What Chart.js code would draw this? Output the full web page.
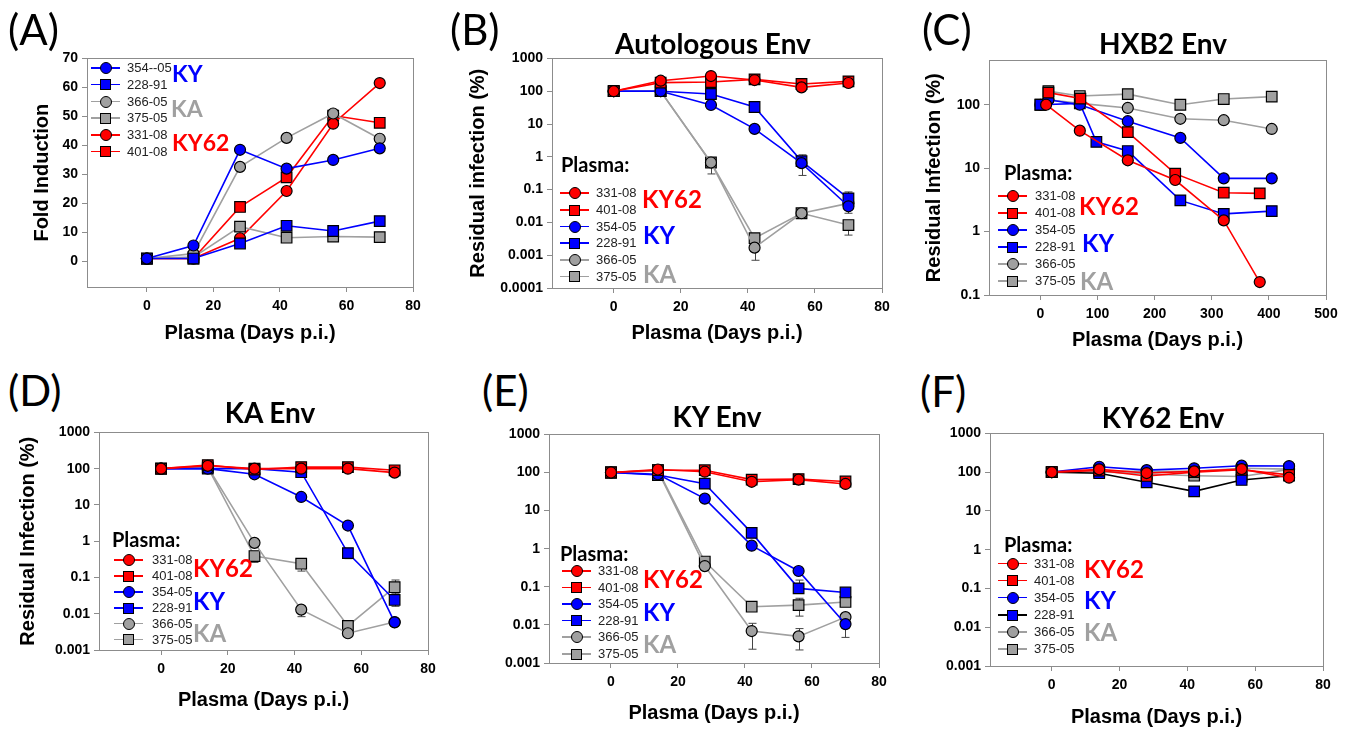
<!DOCTYPE html>
<html>
<head>
<meta charset="utf-8">
<script src="https://cdn.jsdelivr.net/npm/chart.js"></script>
<style>
  body { margin: 0; width: 1355px; height: 729px; position: relative; overflow: hidden; background: #fff; }
  canvas { position: absolute; }
  .letter { position: absolute; font-family: Lato, sans-serif; font-size: 42px; line-height: 1; transform: translateY(-50%); }
  .ptitle { position: absolute; font-family: Lato, sans-serif; font-weight: bold; font-size: 28px; line-height: 1; white-space: nowrap; transform: translate(-50%, -50%); }
  .hdr { position: absolute; font-family: Lato, sans-serif; font-weight: bold; font-size: 20px; line-height: 1; transform: translateY(-50%); }
  .grp { position: absolute; font-family: Lato, sans-serif; font-weight: bold; font-size: 24px; line-height: 1; transform: translateY(-50%); }
  .row { position: absolute; height: 14px; transform: translateY(-50%); }
  .row .ln { position: absolute; left: 0; top: 6px; width: 29px; height: 1.6px; }
  .row .mk { position: absolute; box-sizing: border-box; border: 1.2px solid #000; }
  .row .tx { position: absolute; top: 0; font-family: 'Liberation Sans Narrow', 'Liberation Sans', sans-serif; font-size: 13px; line-height: 14px; color: #222; white-space: nowrap; }
</style>
</head>
<body>
<script>
// ====== DADOS ======
const days = [0, 14, 28, 42, 56, 70];
const daysB = [0, 14, 29, 42, 56, 70];
const namesA = ['354--05', '228-91', '366-05', '375-05', '331-08', '401-08'];
const names = ['331-08', '401-08', '354-05', '228-91', '366-05', '375-05'];

// (A) Fold induction
const a354 = [1, 5.5, 38.5, 32, 35, 39];
const a228 = [1, 1, 6.2, 12.3, 10.5, 13.9];
const a366 = [1, 2.7, 32.6, 42.6, 51, 42.3];
const a375 = [1, 1.5, 12, 8.2, 8.6, 8.4];
const a331 = [1, 1, 8, 24.3, 47.5, 61.5];
const a401 = [1, 1, 18.8, 29, 50.3, 47.8];

// (B) Autologous Env
const b331 = [100, 209, 290, 219, 131, 178];
const b401 = [100, 182, 190, 230, 166, 199];
const b354 = [100, 100, 38, 7.1, 0.64, 0.031];
const b228 = [100, 100, 82, 33, 0.74, 0.054];
const b366 = [100, 100, 0.67, 0.0017, 0.019, 0.038];
const b375 = [100, 100, 0.67, 0.0033, 0.019, 0.0083];

// (C) HXB2 Env (dias diferentes por plasma)
const cX331 = [10, 69, 153, 236, 321, 384];
const cY331 = [100, 39, 13.3, 6.5, 1.5, 0.16];
const cX401 = [14, 70, 153, 236, 321, 384];
const cY401 = [155, 125, 37, 8.2, 4.1, 4.0];
const cX354 = [14, 69, 153, 245, 321, 405];
const cY354 = [120, 100, 55, 30, 6.9, 6.9];
const cX228 = [0, 69, 98, 153, 245, 321, 405];
const cY228 = [100, 105, 26, 18.6, 3.1, 1.9, 2.1];
const cX366 = [0, 14, 69, 153, 245, 321, 405];
const cY366 = [100, 120, 105, 89, 60, 57, 41.5];
const cX375 = [0, 14, 69, 153, 245, 321, 405];
const cY375 = [100, 164, 137, 147, 100, 123, 134];

// (D) KA Env
const d331 = [100, 120, 100, 100, 100, 78];
const d401 = [100, 125, 95, 110, 110, 90];
const d354 = [100, 100, 70, 16.6, 2.7, 0.0058];
const d228 = [100, 100, 100, 80, 0.47, 0.024];
const d366 = [100, 110, 0.9, 0.013, 0.0029, 0.0059];
const d375 = [100, 109, 0.39, 0.24, 0.0046, 0.054];

// (E) KY Env
const e331 = [100, 120, 105, 57, 65, 50];
const e401 = [100, 115, 115, 65, 67, 58];
const e354 = [100, 90, 20.6, 1.2, 0.26, 0.0105];
const e228 = [100, 86, 51, 2.6, 0.091, 0.071];
const e366 = [100, 110, 0.35, 0.0069, 0.005, 0.016];
const e375 = [100, 115, 0.46, 0.030, 0.033, 0.040];

// (F) KY62 Env
const f331 = [100, 118, 95, 105, 120, 72];
const f401 = [100, 110, 80, 100, 115, 85];
const f354 = [100, 138, 113, 126, 147, 144];
const f228 = [100, 94, 55, 32, 63, 81];
const f366 = [100, 105, 105, 105, 126, 120];
const f375 = [100, 103, 90, 81, 77, 118];

// barras de erro: [dia, baixo, alto]
const errB = [[29, 0.3, 0.75], [42, 0.0007, 0.003], [70, 0.0041, 0.01], [56, 0.27, 1.15], [70, 0.019, 0.085]];
const errD = [[42, 0.0083, 0.013], [42, 0.15, 0.3], [28, 0.26, 0.4], [56, 0.33, 0.5], [70, 0.016, 0.035], [70, 0.035, 0.085]];
const errE = [[42, 0.0023, 0.011], [56, 0.0022, 0.008], [56, 0.017, 0.05], [70, 0.0047, 0.016], [56, 0.09, 0.15]];

// ticks
const ticksX = [0, 20, 40, 60, 80];
const ticksXC = [0, 100, 200, 300, 400, 500];
const ticksFold = [0, 10, 20, 30, 40, 50, 60, 70];
const ticksLogB = [0.0001, 0.001, 0.01, 0.1, 1, 10, 100, 1000];
const ticksLogC = [0.1, 1, 10, 100];
const ticksLog = [0.001, 0.01, 0.1, 1, 10, 100, 1000];

// ====== ESTILOS ======
const RED = '#ff0000', BLUE = '#0000ff', GREY = '#a0a0a0';
const styleOf = {
    '331-08': [RED, 'circle'], '401-08': [RED, 'rect'],
    '354-05': [BLUE, 'circle'], '354--05': [BLUE, 'circle'], '228-91': [BLUE, 'rect'],
    '366-05': [GREY, 'circle'], '375-05': [GREY, 'rect']
};

function makeSet(name, xs, ys, lineColor) {
    const [color, shape] = styleOf[name];
    return {
        label: name,
        data: xs.map((x, i) => ({ x: x, y: ys[i] })),
        borderColor: lineColor || color,
        backgroundColor: color,
        pointBackgroundColor: color,
        pointBorderColor: '#000',
        pointBorderWidth: 1.2,
        pointStyle: shape,
        pointRadius: shape === 'rect' ? 7.5 : 5.5,
        borderWidth: 1.6,
        tension: 0
    };
}

// moldura cinza em volta da área do gráfico
const framePlugin = {
    id: 'frame',
    beforeDatasetsDraw(chart) {
        const { ctx, chartArea: a } = chart;
        ctx.save();
        ctx.strokeStyle = '#8c8c8c';
        ctx.lineWidth = 1;
        ctx.strokeRect(Math.round(a.left) + 0.5, Math.round(a.top) + 0.5, Math.round(a.right - a.left), Math.round(a.bottom - a.top));
        ctx.restore();
    }
};

const errPlugin = {
    id: 'errbars',
    beforeDatasetsDraw(chart, args, opts) {
        const list = opts.list || [];
        const { ctx } = chart;
        const sx = chart.scales.x, sy = chart.scales.y;
        ctx.save();
        ctx.strokeStyle = '#444';
        ctx.lineWidth = 1;
        list.forEach(([d, lo, hi]) => {
            const px = Math.round(sx.getPixelForValue(d)) + 0.5;
            const y1 = sy.getPixelForValue(lo), y2 = sy.getPixelForValue(hi);
            ctx.beginPath();
            ctx.moveTo(px, y1); ctx.lineTo(px, y2);
            ctx.moveTo(px - 4, y1); ctx.lineTo(px + 4, y1);
            ctx.moveTo(px - 4, y2); ctx.lineTo(px + 4, y2);
            ctx.stroke();
        });
        ctx.restore();
    }
};

const tickFont = { family: 'Liberation Sans', size: 14, weight: 'bold' };
const titleFont = { family: 'Liberation Sans', size: 20, weight: 'bold' };

function makePanel(p) {
    const cv = document.createElement('canvas');
    const left = p.plot[0] - p.yW, top = p.plot[1] - 12;
    const w = p.plot[2] + 20 - left, h = p.xBottom - top;
    cv.width = w; cv.height = h;
    cv.style.left = left + 'px'; cv.style.top = top + 'px';
    cv.style.width = w + 'px'; cv.style.height = h + 'px';
    document.body.appendChild(cv);
    const xH = h - 12 - (p.plot[3] - p.plot[1]);

    new Chart(cv, {
        type: 'line',
        data: { datasets: p.sets },
        plugins: [framePlugin, errPlugin],
        options: {
            responsive: false,
            animation: false,
            layout: { padding: { top: 12, right: 20, left: 0, bottom: 0 } },
            plugins: { legend: { display: false }, tooltip: { enabled: false }, errbars: { list: p.err || [] } },
            scales: {
                x: {
                    type: 'linear', min: p.xMin, max: p.xMax,
                    afterBuildTicks: s => { s.ticks = p.xTicks.map(v => ({ value: v })); },
                    afterFit: s => { s.height = xH; },
                    border: { color: '#8c8c8c', width: 1 },
                    grid: { drawOnChartArea: false, drawTicks: true, tickLength: 5, color: '#8c8c8c' },
                    ticks: { color: '#000', font: tickFont, padding: 6, maxRotation: 0 },
                    title: { display: true, text: 'Plasma (Days p.i.)', color: '#000', font: titleFont, padding: { top: 4, bottom: 4 } }
                },
                y: {
                    type: p.log ? 'logarithmic' : 'linear', min: p.yMin, max: p.yMax,
                    afterBuildTicks: s => { s.ticks = p.yTicks.map(v => ({ value: v })); },
                    afterFit: s => { s.width = p.yW; },
                    border: { color: '#8c8c8c', width: 1 },
                    grid: { drawOnChartArea: false, drawTicks: true, tickLength: 5, color: '#8c8c8c' },
                    ticks: { color: '#000', font: tickFont, padding: 4, callback: v => String(v) },
                    title: { display: !!p.yTitle, text: p.yTitle || '', color: '#000', font: titleFont, padding: { top: 4, bottom: 4 } }
                }
            }
        }
    });
}

function addText(cls, text, x, y, color) {
    const d = document.createElement('div');
    d.className = cls;
    d.textContent = text;
    d.style.left = x + 'px';
    d.style.top = y + 'px';
    if (color) d.style.color = color;
    document.body.appendChild(d);
    return d;
}

function makeLegend(L, labels, lineColors) {
    if (L.hdr) addText('hdr', 'Plasma:', L.hdr[0], L.hdr[1]);
    labels.forEach((name, i) => {
        const [color, shape] = styleOf[name];
        const row = document.createElement('div');
        row.className = 'row';
        row.style.left = L.x + 'px';
        row.style.top = (L.y0 + i * L.dy) + 'px';
        const ln = document.createElement('div');
        ln.className = 'ln';
        ln.style.background = (lineColors && lineColors[i]) || color;
        const mk = document.createElement('div');
        mk.className = 'mk';
        const s = shape === 'rect' ? 11 : 12;
        mk.style.width = s + 'px'; mk.style.height = s + 'px';
        mk.style.left = (14.5 - s / 2) + 'px'; mk.style.top = (7 - s / 2) + 'px';
        mk.style.background = color;
        if (shape === 'circle') mk.style.borderRadius = '50%';
        const tx = document.createElement('div');
        tx.className = 'tx';
        tx.style.left = (L.tx - L.x) + 'px';
        tx.textContent = name;
        row.appendChild(ln); row.appendChild(mk); row.appendChild(tx);
        document.body.appendChild(row);
    });
    L.groups.forEach(([t, x, y, c]) => {
        const g = addText('grp', t, x, y, c);
        if (L.gSize) g.style.fontSize = L.gSize + 'px';
    });
}

function sets6(xs, vals, lineColors) {
    return names.map((n, i) => makeSet(n, xs, vals[i], lineColors && lineColors[i]));
}

// ====== PAINÉIS ======
makePanel({
    plot: [87, 58, 413, 287], yW: 61, xBottom: 349,
    xMin: -18, xMax: 80, xTicks: ticksX,
    yMin: -8.8, yMax: 70, yTicks: ticksFold, yTitle: 'Fold Induction',
    sets: namesA.map((n, i) => makeSet(n, days, [a354, a228, a366, a375, a331, a401][i]))
});
makePanel({
    plot: [552, 58, 882, 288], yW: 90, xBottom: 349,
    xMin: -18.4, xMax: 80, xTicks: ticksX,
    log: true, yMin: 0.0001, yMax: 1000, yTicks: ticksLogB, yTitle: 'Residual infection (%)',
    sets: sets6(daysB, [b331, b401, b354, b228, b366, b375]), err: errB
});
makePanel({
    plot: [989, 60, 1326, 295], yW: 71, xBottom: 356,
    xMin: -90, xMax: 500, xTicks: ticksXC,
    log: true, yMin: 0.1, yMax: 500, yTicks: ticksLogC, yTitle: 'Residual Infection (%)',
    sets: [
        makeSet('331-08', cX331, cY331), makeSet('401-08', cX401, cY401),
        makeSet('354-05', cX354, cY354), makeSet('228-91', cX228, cY228),
        makeSet('366-05', cX366, cY366), makeSet('375-05', cX375, cY375)
    ]
});
makePanel({
    plot: [99, 432, 428, 650], yW: 87, xBottom: 716,
    xMin: -18.6, xMax: 80, xTicks: ticksX,
    log: true, yMin: 0.001, yMax: 1000, yTicks: ticksLog, yTitle: 'Residual Infection (%)',
    sets: sets6(days, [d331, d401, d354, d228, d366, d375]), err: errD
});
makePanel({
    plot: [549, 434, 879, 663], yW: 79, xBottom: 729,
    xMin: -18.5, xMax: 80, xTicks: ticksX,
    log: true, yMin: 0.001, yMax: 1000, yTicks: ticksLog,
    sets: sets6(days, [e331, e401, e354, e228, e366, e375]), err: errE
});
makePanel({
    plot: [990, 433, 1323, 666], yW: 80, xBottom: 733,
    xMin: -18.2, xMax: 80, xTicks: ticksX,
    log: true, yMin: 0.001, yMax: 1000, yTicks: ticksLog,
    sets: sets6(days, [f331, f401, f354, f228, f366, f375], [null, null, null, '#000', null, null])
});

// ====== TEXTOS ======
addText('letter', '(A)', 8, 29);
addText('letter', '(B)', 450, 29);
addText('letter', '(C)', 922, 29);
addText('letter', '(D)', 8, 390);
addText('letter', '(E)', 482, 390);
addText('letter', '(F)', 920, 391);

addText('ptitle', 'Autologous Env', 713, 43);
addText('ptitle', 'HXB2 Env', 1163, 43);
addText('ptitle', 'KA Env', 270, 412);
addText('ptitle', 'KY Env', 717, 416);
addText('ptitle', 'KY62 Env', 1163, 417);

// legendas
makeLegend({ x: 91, y0: 68, dy: 16.75, tx: 127, gSize: 23,
    groups: [['KY', 172, 73, BLUE], ['KA', 171, 108, GREY], ['KY62', 172, 142, RED]] }, namesA);
makeLegend({ hdr: [561, 164], x: 560, y0: 193.3, dy: 16.7, tx: 596,
    groups: [['KY62', 642, 199, RED], ['KY', 643, 235, BLUE], ['KA', 643, 274, GREY]] }, names);
makeLegend({ hdr: [1004, 172], x: 998, y0: 196, dy: 17, tx: 1035,
    groups: [['KY62', 1079, 206, RED], ['KY', 1082, 243, BLUE], ['KA', 1080, 281, GREY]] }, names);
makeLegend({ hdr: [112, 539], x: 114, y0: 560.3, dy: 15.9, tx: 152,
    groups: [['KY62', 193, 568, RED], ['KY', 193, 601, BLUE], ['KA', 193, 633, GREY]] }, names);
makeLegend({ hdr: [560, 553], x: 562, y0: 571, dy: 16.6, tx: 598,
    groups: [['KY62', 643, 579, RED], ['KY', 643, 612, BLUE], ['KA', 643, 644, GREY]] }, names);
makeLegend({ hdr: [1004, 544], x: 998, y0: 563.7, dy: 17.1, tx: 1034,
    groups: [['KY62', 1084, 569, RED], ['KY', 1084, 600, BLUE], ['KA', 1084, 632, GREY]] }, names,
    [null, null, null, '#000', null, null]);
</script>
</body>
</html>
